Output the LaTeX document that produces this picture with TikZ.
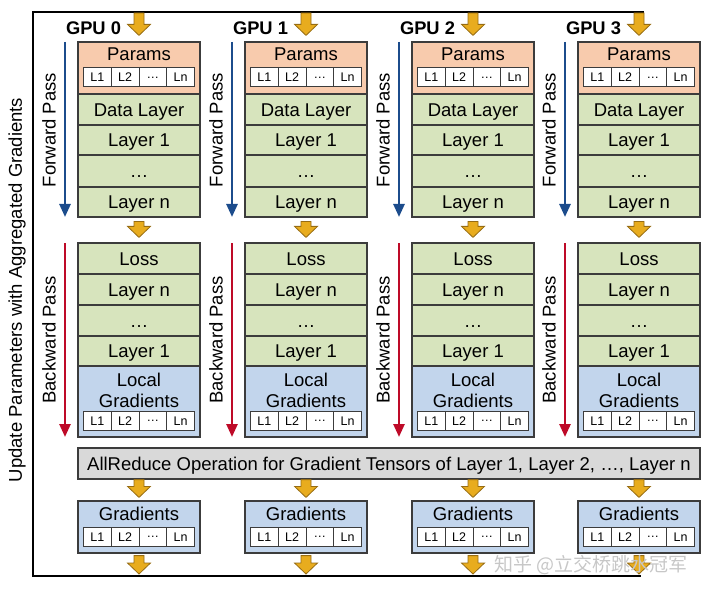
\documentclass[tikz,border=0pt]{standalone}
\usepackage{fontspec}
\setmainfont{Liberation Sans}
\newfontfamily\cjk{Noto Sans CJK SC}
\usetikzlibrary{calc,arrows.meta}
\definecolor{paramc}{RGB}{248,203,173}
\definecolor{greenc}{RGB}{215,228,189}
\definecolor{bluec}{RGB}{194,213,236}
\definecolor{grayc}{RGB}{217,217,217}
\definecolor{edgec}{RGB}{60,60,60}
\definecolor{goldc}{RGB}{232,172,30}
\definecolor{golde}{RGB}{150,108,20}
\definecolor{fwdc}{RGB}{28,76,140}
\definecolor{bwdc}{RGB}{190,10,40}
\tikzset{
  blk/.style={draw=edgec, line width=1.2pt, minimum width=122pt, inner sep=0pt, text height=13.2pt, text depth=0pt, font=\fontsize{18.5}{21}\selectfont},
  lbl/.style={inner sep=0pt, text height=13.2pt, text depth=0pt, font=\fontsize{18.5}{21}\selectfont},
  lcell/.style={draw=edgec, fill=white, line width=1pt, minimum width=27.75pt, minimum height=19pt, inner sep=0pt, font=\fontsize{12.5}{14}\selectfont},
  fatarrow/.style={fill=goldc, draw=golde, line width=0.8pt, line join=miter},
  framel/.style={line width=2.4pt, black},
  passarrow/.style={line width=2.6pt, -{Triangle[width=11pt,length=13pt]}},
  passtext/.style={rotate=90, inner sep=0pt, font=\fontsize{18.5}{21}\selectfont},
}
\newcommand\fatarr[2]{\draw[fatarrow] let \p1=(#1), \p2=(#2) in
  (\x1-5pt,\y1) -- (\x1+5pt,\y1) -- (\x1+5pt,\y2+11pt) -- (\x1+11.5pt,\y2+11pt)
  -- (\x1,\y2) -- (\x1-11.5pt,\y2+11pt) -- (\x1-5pt,\y2+11pt) -- cycle;}
\begin{document}
\begin{tikzpicture}[x=1pt,y=-1pt]
\useasboundingbox (0,0) rectangle (720,596);
% frame
\draw[framel] (644,12) -- (33,12) -- (33,576) -- (641,576);
\node[rotate=90, inner sep=0pt, font=\fontsize{18.5}{22}\selectfont] (upd) at (17,290) {Update Parameters with Aggregated Gradients};
% AllReduce
\node[blk, fill=grayc, minimum width=622pt, minimum height=31pt] (allr) at (389,463.5) {AllReduce Operation for Gradient Tensors of Layer 1, Layer 2, …, Layer n};
\foreach \i/\cx in {0/139,1/306,2/473,3/639}{
  % top
  \coordinate (top\i) at (\cx,13);
  \node[inner sep=0pt, font=\bfseries\fontsize{18.3}{21}\selectfont] (gpu\i) at (\cx-45.5,28) {GPU \i};
  % forward block
  \node[blk, fill=paramc, minimum height=52pt] (par\i) at (\cx,68) {};
  \node[lbl] (part\i) at (\cx,54) {Params};
  \node[blk, fill=greenc, minimum height=31pt] (dat\i) at (\cx,109.5) {Data Layer};
  \node[blk, fill=greenc, minimum height=30pt] (fl1\i) at (\cx,140) {Layer 1};
  \node[blk, fill=greenc, minimum height=32pt] (fdt\i) at (\cx,171) {…};
  \node[blk, fill=greenc, minimum height=30pt] (fln\i) at (\cx,202) {Layer n};
  % backward block
  \node[blk, fill=greenc, minimum height=31pt] (los\i) at (\cx,258.5) {Loss};
  \node[blk, fill=greenc, minimum height=31pt] (bln\i) at (\cx,289.5) {Layer n};
  \node[blk, fill=greenc, minimum height=31pt] (bdt\i) at (\cx,320.5) {…};
  \node[blk, fill=greenc, minimum height=30pt] (bl1\i) at (\cx,351) {Layer 1};
  \node[blk, fill=bluec, minimum height=71pt] (lg\i) at (\cx,401.5) {};
  \node[inner sep=0pt, align=center, font=\fontsize{18.5}{21}\selectfont] (lgt\i) at (\cx,390) {Local\\Gradients};
  % gradients
  \node[blk, fill=bluec, minimum height=52pt] (gr\i) at (\cx,527) {};
  \node[lbl] (grt\i) at (\cx,514) {Gradients};
  \foreach \k/\dx/\t in {1/-41.625/L1,2/-13.875/L2,3/13.875/…,4/41.625/Ln}{
    \node[lcell] (pc\i\k) at (\cx+\dx,77.5) {\t};
    \node[lcell] (lc\i\k) at (\cx+\dx,421) {\t};
    \node[lcell] (gc\i\k) at (\cx+\dx,537) {\t};
  }
  % pass arrows
  \coordinate (fs\i) at (\cx-74,42);
  \coordinate (fe\i) at (\cx-74,217);
  \draw[passarrow, fwdc] (fs\i) -- (fe\i);
  \node[passtext] (fpt\i) at (\cx-90,130) {Forward Pass};
  \coordinate (bs\i) at (\cx-74,243);
  \coordinate (be\i) at (\cx-74,437);
  \draw[passarrow, bwdc] (bs\i) -- (be\i);
  \node[passtext] (bpt\i) at (\cx-90,340) {Backward Pass};
  % fat arrows
  \coordinate (bot\i) at (\cx,574);
  \fatarr{top\i}{[yshift=6pt]par\i.north}
  \fatarr{[yshift=-4pt]fln\i.south}{[yshift=5pt]los\i.north}
  \fatarr{allr.south -| par\i.south}{[yshift=3pt]gr\i.north}
  \fatarr{[yshift=-2pt]gr\i.south}{bot\i}
}
\node[inner sep=0pt, text=black!22, font=\cjk\fontsize{19}{22}\selectfont] (wm) at (591,565) {知乎 @立交桥跳水冠军};
\end{tikzpicture}
\end{document}
